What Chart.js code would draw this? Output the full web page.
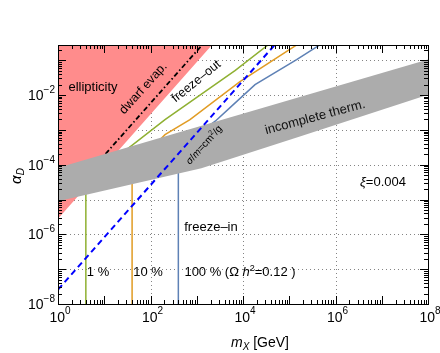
<!DOCTYPE html>
<html><head><meta charset="utf-8">
<script src="https://cdn.jsdelivr.net/npm/chart.js@4"></script>
<style>html,body{margin:0;padding:0;background:#fff;}canvas{display:block}</style>
</head><body>
<canvas id="c" width="440" height="353"></canvas>
<script>
// ---- data (m in GeV, alpha_D) ----
const xTickExponents = [0, 2, 4, 6, 8];
const yTickExponents = [-8, -6, -4, -2];
const xGridExponents = [2, 4, 6];
const yGridExponents = [-7, -6, -5, -4, -3, -2, -1];

const ellipticityMass  = [1, 2500];
const ellipticityAlpha = [2.8e-6, 0.35];

const dwarfMass  = [1.6, 2000];
const dwarfAlpha = [1.2e-5, 0.52];

const greenMass  = [4, 4, 6.3, 12.6, 28, 206, 6700, 40000];
const greenAlpha = [1e-8, 3.2e-5, 7.9e-5, 1.4e-4, 2.5e-4, 1.97e-3, 0.0507, 0.32];

const orangeMass  = [40, 40, 79, 206, 714, 8600, 178000];
const orangeAlpha = [1e-8, 5e-5, 2e-4, 7.3e-4, 1.97e-3, 0.0244, 0.33];

const blueMass  = [400, 400, 890, 2510, 5240, 18200, 144500, 562000];
const blueAlpha = [1e-8, 1.6e-4, 6.3e-4, 1.78e-3, 4.37e-3, 0.02, 0.105, 0.33];

const sigmaMass  = [1, 63000];
const sigmaAlpha = [2.6e-8, 0.41];

const thermTopMass  = [1, 1e8];
const thermTopAlpha = [8.2e-5, 0.105];
const thermBotMass  = [1, 1260, 170000, 1e8];
const thermBotAlpha = [8.9e-6, 7.9e-5, 6.5e-4, 0.0102];

const pts = (xs, ys) => xs.map((x, i) => ({x, y: ys[i]}));

const FONT = '"Liberation Sans", Arial, Helvetica, sans-serif';
const fnt = (size, style) => (style ? style + ' ' : '') + size + 'px ' + FONT;

function drawRich(ctx, runs, cx, cy, angleDeg, align, base) {
  ctx.save();
  ctx.translate(cx, cy);
  ctx.rotate(angleDeg * Math.PI / 180);
  let total = 0;
  runs.forEach(r => { ctx.font = r.font; r.w = ctx.measureText(r.t).width; total += r.w; });
  let x = align === 'right' ? -total : (align === 'left' ? 0 : -total / 2);
  ctx.textBaseline = 'alphabetic';
  runs.forEach(r => {
    ctx.font = r.font; ctx.fillStyle = r.color || '#000';
    ctx.fillText(r.t, x, (base || 0) + (r.dy || 0));
    x += r.w;
  });
  ctx.restore();
}

const decor = {
  id: 'decor',
  beforeDatasetsDraw(chart) {
    const {ctx, chartArea: a, scales: {x, y}} = chart;
    ctx.save();
    ctx.strokeStyle = 'rgba(110,110,110,0.85)';
    ctx.lineWidth = 1;
    ctx.setLineDash([1, 3]);
    yGridExponents.forEach(e => {
      const py = Math.round(y.getPixelForValue(Math.pow(10, e))) + 0.5;
      ctx.beginPath(); ctx.moveTo(a.left, py); ctx.lineTo(a.right, py); ctx.stroke();
    });
    xGridExponents.forEach(e => {
      const px = Math.round(x.getPixelForValue(Math.pow(10, e))) + 0.5;
      ctx.beginPath(); ctx.moveTo(px, a.top); ctx.lineTo(px, a.bottom); ctx.stroke();
    });
    ctx.restore();
  },
  afterDatasetsDraw(chart) {
    const {ctx, chartArea: a, scales: {x, y}} = chart;
    ctx.save();
    ctx.strokeStyle = '#000'; ctx.lineWidth = 1; ctx.setLineDash([]);
    ctx.strokeRect(Math.round(a.left) + 0.5, Math.round(a.top) + 0.5, Math.round(a.right - a.left), Math.round(a.bottom - a.top));
    ctx.beginPath();
    for (let n = 0; n <= 8; n++) {
      for (let k = 1; k <= 9; k++) {
        const v = k * Math.pow(10, n);
        if (v > 1e8) break;
        const px = Math.round(x.getPixelForValue(v)) + 0.5;
        const L = k === 1 ? 8 : 4;
        ctx.moveTo(px, a.bottom); ctx.lineTo(px, a.bottom - L);
        ctx.moveTo(px, a.top); ctx.lineTo(px, a.top + L);
      }
    }
    for (let n = -8; n <= -1; n++) {
      for (let k = 1; k <= 9; k++) {
        const v = k * Math.pow(10, n);
        if (v > y.max) break;
        const py = Math.round(y.getPixelForValue(v)) + 0.5;
        const L = k === 1 ? 8 : 4;
        ctx.moveTo(a.left, py); ctx.lineTo(a.left + L, py);
        ctx.moveTo(a.right, py); ctx.lineTo(a.right - L, py);
      }
    }
    ctx.stroke();
    xTickExponents.forEach(e => {
      const px = x.getPixelForValue(Math.pow(10, e));
      drawRich(ctx, [{t: '10', font: fnt(14)}, {t: String(e), font: fnt(10), dy: -8}], px + 2, 322, 0, 'center');
    });
    yTickExponents.forEach(e => {
      const py = y.getPixelForValue(Math.pow(10, e));
      drawRich(ctx, [{t: '10', font: fnt(14)}, {t: '\u2212' + String(-e), font: fnt(10), dy: -7}], a.left - 3, py + 5, 0, 'right');
    });
    drawRich(ctx, [{t: 'm', font: fnt(14, 'italic')}, {t: 'X', font: fnt(10, 'italic'), dy: 3}, {t: ' [GeV]', font: fnt(14)}], 260, 347, 0, 'center');
    drawRich(ctx, [{t: '\u03b1', font: fnt(15, 'italic')}, {t: 'D', font: fnt(10, 'italic'), dy: 3}], 21, 176, -90, 'center');
    const s13 = fnt(13);
    drawRich(ctx, [{t: 'ellipticity', font: s13}], 93, 87, 0, 'center', 4);
    drawRich(ctx, [{t: 'dwarf evap.', font: fnt(12.5)}], 143, 88, -48, 'center', 4);
    drawRich(ctx, [{t: 'freeze\u2013out', font: fnt(12.5)}], 196, 81, -39, 'center', 4);
    drawRich(ctx, [{t: '\u03c3', font: fnt(10, 'italic')}, {t: '/', font: fnt(10)}, {t: 'm', font: fnt(10, 'italic')}, {t: '=cm', font: fnt(10)}, {t: '2', font: fnt(7), dy: -4}, {t: '/g', font: fnt(10)}], 204, 145, -48, 'center', 3);
    drawRich(ctx, [{t: 'incomplete therm.', font: s13, color: '#111'}], 315, 117, -15, 'center', 4);
    drawRich(ctx, [{t: '\u03be', font: fnt(13, 'italic')}, {t: '=0.004', font: s13}], 383, 182, 0, 'center', 4);
    drawRich(ctx, [{t: 'freeze\u2013in', font: s13}], 211, 227, 0, 'center', 4);
    drawRich(ctx, [{t: '1 %', font: s13}], 98, 272, 0, 'center', 4);
    drawRich(ctx, [{t: '10 %', font: s13}], 148, 272, 0, 'center', 4);
    drawRich(ctx, [{t: '100 % (\u03a9 ', font: s13}, {t: 'h', font: fnt(13, 'italic')}, {t: '2', font: fnt(9), dy: -5}, {t: '=0.12 )', font: s13}], 240, 272, 0, 'center', 4);
    ctx.restore();
  }
};

const lineDS = (data, color, width, order, extra) => Object.assign({
  data, borderColor: color, borderWidth: width, pointRadius: 0, tension: 0, fill: false, order, clip: 0
}, extra || {});

new Chart(document.getElementById('c'), {
  type: 'line',
  data: {
    datasets: [
      lineDS(pts(ellipticityMass, ellipticityAlpha), 'rgba(0,0,0,0)', 0, 10, {fill: 'end', backgroundColor: 'rgb(255,140,140)'}),
      lineDS(pts(dwarfMass, dwarfAlpha), '#000', 1.8, 9, {borderDash: [5, 2.5, 1.5, 2.5]}),
      lineDS(pts(greenMass, greenAlpha), 'rgb(143,176,50)', 1.5, 8),
      lineDS(pts(orangeMass, orangeAlpha), 'rgb(225,156,36)', 1.5, 7),
      lineDS(pts(blueMass, blueAlpha), 'rgb(94,129,181)', 1.5, 6),
      lineDS(pts(thermTopMass, thermTopAlpha), 'rgba(0,0,0,0)', 0, 5),
      lineDS(pts(thermBotMass, thermBotAlpha), 'rgba(0,0,0,0)', 0, 4, {fill: '-1', backgroundColor: 'rgb(172,172,172)'}),
      lineDS(pts(sigmaMass, sigmaAlpha), 'rgb(0,0,255)', 2, 1, {borderDash: [6, 4]})
    ]
  },
  options: {
    responsive: false,
    animation: false,
    devicePixelRatio: 1,
    layout: {padding: {left: 58, top: 45, right: 12, bottom: 49}},
    scales: {
      x: {type: 'logarithmic', min: 1, max: 1e8, display: false},
      y: {type: 'logarithmic', min: 1e-8, max: 0.275, display: false}
    },
    plugins: {legend: {display: false}, tooltip: {enabled: false}, filler: {drawTime: 'beforeDatasetDraw'}}
  },
  plugins: [decor]
});
</script>
</body></html>
